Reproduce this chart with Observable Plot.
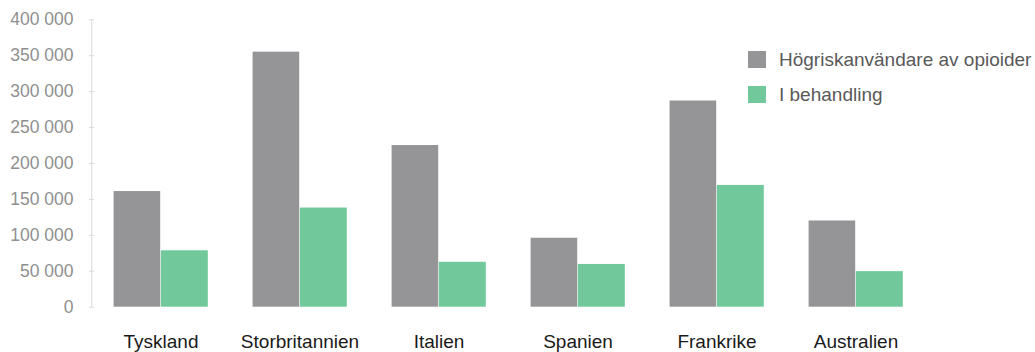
<!DOCTYPE html>
<html>
<head>
<meta charset="utf-8">
<script src="https://cdn.jsdelivr.net/npm/d3@7"></script>
<script src="https://cdn.jsdelivr.net/npm/@observablehq/plot@0.6"></script>
<style>
  html, body { margin: 0; padding: 0; background: #fff; }
  #wrap { position: relative; width: 1035px; height: 352px; font-family: "Liberation Sans", Arial, sans-serif; }
  #legend { position: absolute; left: 748px; top: 42px; }
  .item { display: flex; align-items: center; height: 35px; font-size: 19px; color: #595959; }
  .sw { width: 18px; height: 17px; margin-right: 13px; }
</style>
</head>
<body>
<div id="wrap">
  <div id="chart"></div>
  <div id="legend"></div>
</div>
<script>
const countries = ["Tyskland", "Storbritannien", "Italien", "Spanien", "Frankrike", "Australien"];
const seriesNames = ["Högriskanvändare av opioider", "I behandling"];
const highRisk = [161000, 355000, 225000, 96000, 287000, 120000];
const inTreatment = [78500, 138000, 62500, 59500, 169500, 49500];
const yTicks = [0, 50000, 100000, 150000, 200000, 250000, 300000, 350000, 400000];
const colors = ["#959597", "#71c99b"];

const data = countries.map((c, i) => ({country: c, highRisk: highRisk[i], inTreatment: inTreatment[i]}));
const fmt = d => d3.format(",")(d).replace(/,/g, " ");

const chart = Plot.plot({
  width: 1035,
  height: 352,
  marginLeft: 89,
  marginRight: 108.4,
  marginTop: 19.3,
  marginBottom: 45.3,
  style: {fontFamily: "'Liberation Sans', Arial, sans-serif", background: "transparent"},
  x: {domain: countries, padding: 0},
  y: {domain: [0, 400000]},
  marks: [
    Plot.barY(data, {x: "country", y: "highRisk", fill: colors[0], insetLeft: 22.6, insetRight: 69.8}),
    Plot.barY(data, {x: "country", y: "inTreatment", fill: colors[1], insetLeft: 69.8, insetRight: 22.2}),
    Plot.ruleX([countries[0]], {x: d => d, y1: 0, y2: 400000, dx: -69.3, stroke: "#d9d9d9"}),
    Plot.axisY({ticks: yTicks, tickFormat: fmt, tickSize: -5, tickPadding: 21, stroke: "#d9d9d9", fill: "#8f8f8f", fontSize: 17.5, label: null}),
    Plot.axisX({tickSize: 0, tickPadding: 27, fontSize: 19, fill: "#1a1a1a", label: null})
  ]
});
document.getElementById("chart").appendChild(chart);

const legend = document.getElementById("legend");
seriesNames.forEach((name, i) => {
  const item = document.createElement("div");
  item.className = "item";
  const sw = document.createElement("div");
  sw.className = "sw";
  sw.style.background = colors[i];
  const label = document.createElement("span");
  label.textContent = name;
  item.appendChild(sw);
  item.appendChild(label);
  legend.appendChild(item);
});
</script>
</body>
</html>
